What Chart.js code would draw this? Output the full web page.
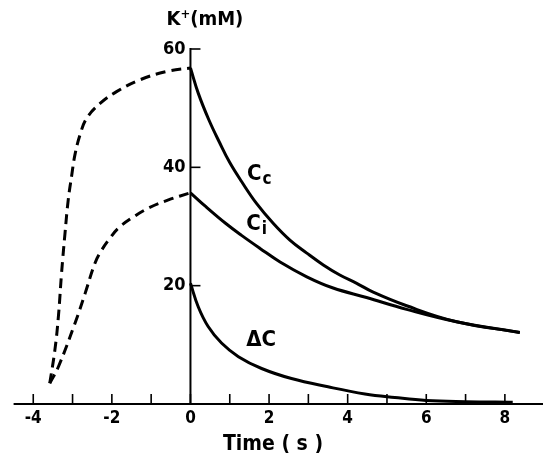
<!DOCTYPE html>
<html>
<head>
<meta charset="utf-8">
<script src="https://cdn.jsdelivr.net/npm/chart.js@4.4.0/dist/chart.umd.min.js"></script>
<style>
  html, body { margin: 0; padding: 0; background: #fff; }
  canvas { display: block; }
</style>
</head>
<body>
<canvas id="k-chart" width="543" height="457"></canvas>
<script>
// values (time in s, K+ in mM)
var ccTime = [0, 0.2, 0.47, 0.74, 1.0, 1.30, 1.68, 2.11, 2.53, 2.96, 3.38, 3.80, 4.23, 4.65, 5.5, 6.77, 8.38];
var ccK    = [56.8, 52.5, 48.0, 44.2, 40.8, 37.6, 33.9, 30.5, 27.7, 25.5, 23.5, 21.8, 20.4, 18.9, 16.6, 13.9, 12.1];

var ciTime = [0, 0.4, 0.9, 1.30, 1.77, 2.28, 2.96, 3.63, 4.48, 5.5, 6.77, 8.38];
var ciK    = [35.7, 33.3, 30.5, 28.5, 26.3, 24.0, 21.5, 19.6, 18.0, 16.0, 13.9, 12.1];

var dcTime = [0, 0.2, 0.45, 0.79, 1.22, 1.81, 2.57, 3.5, 4.44, 5.2, 6.0, 7.0, 8.2];
var dcK    = [20.4, 16.4, 13.1, 10.3, 8.0, 6.0, 4.3, 2.9, 1.7, 1.1, 0.6, 0.4, 0.3];

// dashed loading phase before t = 0
var ccRiseTime = [-3.58, -3.45, -3.36, -3.28, -3.19, -3.11, -3.02, -2.94, -2.81, -2.64, -2.30, -1.88, -1.28, -0.61, 0];
var ccRiseK    = [3.5, 9.1, 14.8, 22.1, 29.0, 34.5, 38.7, 42.1, 45.5, 48.3, 50.8, 52.8, 54.8, 56.2, 56.8];

var ciRiseTime = [-3.58, -3.36, -2.94, -2.68, -2.43, -2.26, -2.05, -1.84, -1.50, -1.07, -0.56, 0];
var ciRiseK    = [3.5, 6.3, 13.6, 18.7, 23.8, 26.0, 28.0, 29.7, 31.4, 33.1, 34.5, 35.7];

var xTicks = [-4, -3, -2, -1, 0, 1, 2, 3, 4, 5, 6, 7, 8];
var xTickLabels = ['-4', '-2', '0', '2', '4', '6', '8'];
var yTicks = [20, 40, 60];
var yTickLabels = ['20', '40', '60'];

var FONT = '"DejaVu Sans Condensed", "DejaVu Sans", sans-serif';

function pts(xs, ys) {
    return xs.map(function(x, i) { return {x: x, y: ys[i]}; });
}

function line(data, dashed) {
    return {
        data: data,
        borderColor: '#000',
        borderWidth: 3,
        borderDash: dashed ? [10, 6] : [],
        pointRadius: 0,
        tension: 0.4,
        fill: false
    };
}

// curve names, placed in data units
var curveLabels = [
    {main: 'C', sub: 'c', x: 1.44, y: 38.8},
    {main: 'C', sub: 'i', x: 1.42, y: 30.3},
    {main: '\u0394C', sub: '', x: 1.42, y: 10.7}
];

var axesPlugin = {
    id: 'figAxes',
    afterDatasetsDraw: function(chart) {
        var c = chart.ctx;
        var xs = chart.scales.x, ys = chart.scales.y;
        var x0 = xs.getPixelForValue(0);
        var y0 = ys.getPixelForValue(0);
        c.save();
        c.strokeStyle = '#000';
        c.fillStyle = '#000';
        c.lineWidth = 2;
        c.lineCap = 'butt';

        // x axis
        c.beginPath();
        c.moveTo(xs.getPixelForValue(-4.5), y0);
        c.lineTo(chart.width, y0);
        c.stroke();
        // y axis at t = 0
        c.beginPath();
        c.moveTo(x0, y0);
        c.lineTo(x0, ys.getPixelForValue(60) - 1);
        c.stroke();

        c.lineWidth = 1.6;
        xTicks.forEach(function(t) {
            var px = xs.getPixelForValue(t);
            c.beginPath();
            c.moveTo(px, y0);
            c.lineTo(px, y0 - 10);
            c.stroke();
        });
        yTicks.forEach(function(v) {
            var py = ys.getPixelForValue(v);
            c.beginPath();
            c.moveTo(x0, py);
            c.lineTo(x0 + 10, py);
            c.stroke();
        });

        c.font = 'bold 17px ' + FONT;
        c.textAlign = 'center';
        c.textBaseline = 'middle';
        xTickLabels.forEach(function(s) {
            c.fillText(s, xs.getPixelForValue(parseFloat(s)), y0 + 15);
        });
        c.font = 'bold 18px ' + FONT;
        c.textAlign = 'right';
        yTickLabels.forEach(function(s) {
            c.fillText(s, x0 - 5, ys.getPixelForValue(parseFloat(s)));
        });

        // axis titles
        c.font = 'bold 21px ' + FONT;
        c.textAlign = 'center';
        c.fillText('Time ( s )', xs.getPixelForValue(2.1), y0 + 41);

        c.textAlign = 'left';
        var lx = x0 - 24, ly = 20;
        c.font = 'bold 20px ' + FONT;
        c.fillText('K', lx, ly);
        var kw = c.measureText('K').width;
        c.font = 'bold 13px ' + FONT;
        c.fillText('+', lx + kw, ly - 5);
        var pw = c.measureText('+').width;
        c.font = 'bold 20px ' + FONT;
        c.fillText('(mM)', lx + kw + pw, ly);

        // curve labels
        curveLabels.forEach(function(l) {
            var px = xs.getPixelForValue(l.x), py = ys.getPixelForValue(l.y);
            c.font = 'bold 22px ' + FONT;
            c.fillText(l.main, px, py);
            if (l.sub) {
                var w = c.measureText(l.main).width;
                c.font = 'bold 17px ' + FONT;
                c.fillText(l.sub, px + w + 1, py + 5);
            }
        });
        c.restore();
    }
};

new Chart(document.getElementById('k-chart').getContext('2d'), {
    type: 'line',
    data: {
        datasets: [
            line(pts(ccTime, ccK), false),
            line(pts(ciTime, ciK), false),
            line(pts(dcTime, dcK), false),
            line(pts(ccRiseTime, ccRiseK), true),
            line(pts(ciRiseTime, ciRiseK), true)
        ]
    },
    options: {
        responsive: false,
        animation: false,
        layout: { padding: { left: 13.6, right: 0, top: 49, bottom: 53 } },
        plugins: { legend: { display: false }, tooltip: { enabled: false } },
        scales: {
            x: { type: 'linear', min: -4.5, max: 8.97, display: false },
            y: { type: 'linear', min: 0, max: 60, display: false }
        }
    },
    plugins: [axesPlugin]
});
</script>
</body>
</html>
